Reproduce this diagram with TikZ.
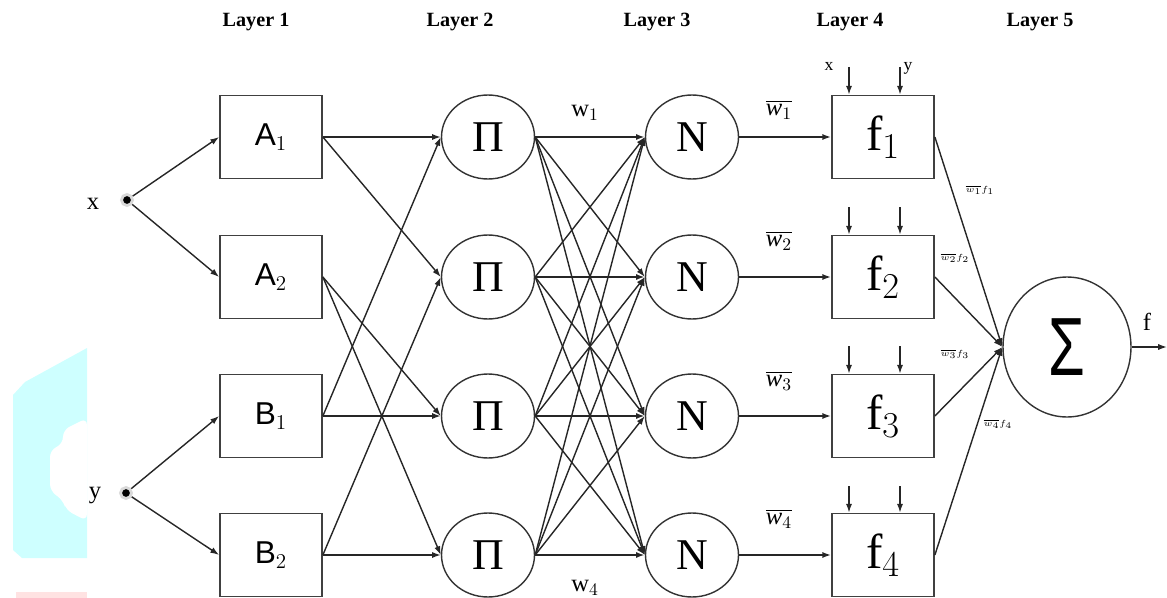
\documentclass[tikz,border=0pt]{standalone}
\usepackage{fontspec}
\setmainfont{Liberation Serif}
\setsansfont{Liberation Sans}
\usetikzlibrary{arrows.meta,shapes.geometric}
\definecolor{wmcyan}{RGB}{206,255,255}
\definecolor{wmpink}{RGB}{255,226,226}
\tikzset{
  mfbox/.style={draw=black!75, line width=1pt, minimum width=2.04cm, minimum height=1.66cm, inner sep=0pt, font=\sffamily\fontsize{18}{18}\selectfont},
  rulebox/.style={mfbox, font=\rmfamily\fontsize{28}{28}\selectfont},
  opnode/.style={draw=black!80, ellipse, line width=0.8pt, minimum width=1.86cm, minimum height=1.68cm, inner sep=0pt, font=\fontsize{25}{25}\selectfont},
  sumnode/.style={draw=black!80, ellipse, line width=0.8pt, minimum width=2.56cm, minimum height=2.8cm, inner sep=0pt, font=\sffamily\fontsize{47}{47}\selectfont},
  layerlbl/.style={font=\bfseries\fontsize{11.5}{12}\selectfont},
  inputdot/.style={circle, fill=black, draw=black!15, line width=1.6pt, minimum size=0.22cm, inner sep=0pt},
  link/.style={black!85, line width=0.8pt, -{Latex[length=5pt,width=3.5pt]}},
  thicklink/.style={link, line width=1.5pt},
  wlbl/.style={font=\fontsize{14}{14}\selectfont},
  tinylbl/.style={font=\fontsize{5.5}{6}\selectfont}
}
\begin{document}
\begin{tikzpicture}[x=0.02cm, y=-0.02cm]
    \useasboundingbox (0,0) rectangle (1167,598);
    % watermark on the left
    \fill[wmcyan] (87,348) -- (25,382) -- (13,395) -- (13,550) -- (22,558) -- (87,558) -- cycle;
    \fill[white, rounded corners=4] (87,418) -- (63,430) -- (63,444) -- (50,450) -- (50,491) -- (63,500) -- (66,510) -- (87,521) -- cycle;
    \fill[wmpink] (16,592) rectangle (87,598);

    % layer titles
    \node[layerlbl] (l1) at (256,22) {Layer 1};
    \node[layerlbl] (l2) at (460,22) {Layer 2};
    \node[layerlbl] (l3) at (657,22) {Layer 3};
    \node[layerlbl] (l4) at (850,22) {Layer 4};
    \node[layerlbl] (l5) at (1040,22) {Layer 5};

    % inputs
    \node[inputdot] (inx) at (127,200) {};
    \node[inputdot] (iny) at (126,493) {};
    \node[wlbl] (lx) at (93,204) {x};
    \node[wlbl] (ly) at (95,496) {y};

    % layer 1
    \node[mfbox] (a1) at (271,137) {A$_1$};
    \node[mfbox] (a2) at (271,277) {A$_2$};
    \node[mfbox] (b1) at (271,416) {B$_1$};
    \node[mfbox] (b2) at (271,555) {B$_2$};

    % layer 2
    \node[opnode] (p1) at (488,137) {Π};
    \node[opnode] (p2) at (488,277) {Π};
    \node[opnode] (p3) at (488,416) {Π};
    \node[opnode] (p4) at (488,555) {Π};

    % layer 3
    \node[opnode] (n1) at (692,137) {N};
    \node[opnode] (n2) at (692,277) {N};
    \node[opnode] (n3) at (692,416) {N};
    \node[opnode] (n4) at (692,555) {N};

    % layer 4
    \node[rulebox] (f1) at (883,137) {f$_1$};
    \node[rulebox] (f2) at (883,277) {f$_2$};
    \node[rulebox] (f3) at (883,416) {f$_3$};
    \node[rulebox] (f4) at (883,555) {f$_4$};

    % layer 5
    \node[sumnode] (s) at (1067,347) {\scalebox{0.72}[1]{Σ}};
    \coordinate (fout) at (1167,347);
    \node[wlbl] (lf) at (1147,322) {f};

    % inputs to layer 1
    \draw[link] (inx) -- (a1.west);
    \draw[link] (inx) -- (a2.west);
    \draw[link] (iny) -- (b1.west);
    \draw[link] (iny) -- (b2.west);

    % layer 1 to layer 2
    \draw[link] (a1.east) -- (p1.west);
    \draw[link] (a1.east) -- (p2.west);
    \draw[link] (a2.east) -- (p3.west);
    \draw[link] (a2.east) -- (p4.west);
    \draw[link] (b1.east) -- (p1.west);
    \draw[link] (b1.east) -- (p3.west);
    \draw[link] (b2.east) -- (p2.west);
    \draw[link] (b2.east) -- (p4.west);

    % layer 2 to layer 3
    \draw[thicklink] (p1.east) -- (n1.west);
    \draw[link] (p1.east) -- (n2.west);
    \draw[link] (p1.east) -- (n3.west);
    \draw[link] (p1.east) -- (n4.west);
    \draw[link] (p2.east) -- (n1.west);
    \draw[thicklink] (p2.east) -- (n2.west);
    \draw[link] (p2.east) -- (n3.west);
    \draw[link] (p2.east) -- (n4.west);
    \draw[link] (p3.east) -- (n1.west);
    \draw[link] (p3.east) -- (n2.west);
    \draw[thicklink] (p3.east) -- (n3.west);
    \draw[link] (p3.east) -- (n4.west);
    \draw[link] (p4.east) -- (n1.west);
    \draw[link] (p4.east) -- (n2.west);
    \draw[link] (p4.east) -- (n3.west);
    \draw[thicklink] (p4.east) -- (n4.west);
    \node[wlbl] (w1) at (585,113) {w$_1$};
    \node[wlbl] (w4) at (585,588) {w$_4$};

    % layer 3 to layer 4
    \draw[thicklink] (n1.east) -- (f1.west);
    \draw[thicklink] (n2.east) -- (f2.west);
    \draw[thicklink] (n3.east) -- (f3.west);
    \draw[thicklink] (n4.east) -- (f4.west);
    \node[wlbl] (wb1) at (779,110) {$\overline{\mathit{w}_1}$};
    \node[wlbl] (wb2) at (779,241) {$\overline{\mathit{w}_2}$};
    \node[wlbl] (wb3) at (779,381) {$\overline{\mathit{w}_3}$};
    \node[wlbl] (wb4) at (779,519) {$\overline{\mathit{w}_4}$};

    % x and y into the rules
    \coordinate (fx1) at (849,67);
    \coordinate (fy1) at (900,67);
    \coordinate (fx2) at (849,207);
    \coordinate (fy2) at (900,207);
    \coordinate (fx3) at (849,346);
    \coordinate (fy3) at (900,346);
    \coordinate (fx4) at (849,486);
    \coordinate (fy4) at (900,486);
    \draw[link] (fx1) -- (fx1 |- f1.north);
    \draw[link] (fy1) -- (fy1 |- f1.north);
    \draw[link] (fx2) -- (fx2 |- f2.north);
    \draw[link] (fy2) -- (fy2 |- f2.north);
    \draw[link] (fx3) -- (fx3 |- f3.north);
    \draw[link] (fy3) -- (fy3 |- f3.north);
    \draw[link] (fx4) -- (fx4 |- f4.north);
    \draw[link] (fy4) -- (fy4 |- f4.north);
    \node[font=\fontsize{10}{10}\selectfont] (lfx) at (829,66) {x};
    \node[font=\fontsize{10}{10}\selectfont] (lfy) at (908,68) {y};

    % layer 4 to layer 5
    \draw[link] (f1.east) -- (s.west);
    \draw[link] (f2.east) -- (s.west);
    \draw[link] (f3.east) -- (s.west);
    \draw[link] (f4.east) -- (s.west);
    \node[tinylbl] (wf1) at (980,190) {$\overline{w_1}f_1$};
    \node[tinylbl] (wf2) at (955,258) {$\overline{w_2}f_2$};
    \node[tinylbl] (wf3) at (955,354) {$\overline{w_3}f_3$};
    \node[tinylbl] (wf4) at (998,424) {$\overline{w_4}f_4$};
    \draw[link] (s.east) -- (fout);

  \end{tikzpicture}
\end{document}
